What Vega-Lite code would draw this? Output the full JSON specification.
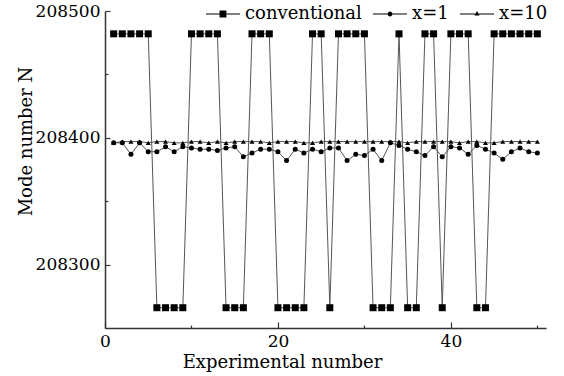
{
  "$schema": "https://vega.github.io/schema/vega-lite/v6.json",
  "width": 441,
  "height": 317,
  "autosize": {"type": "none"},
  "padding": {"left": 105, "top": 11, "right": 18, "bottom": 48},
  "background": "white",
  "config": {
    "view": {"stroke": null},
    "font": "DejaVu Serif"
  },
  "data": {
    "values": [
      {"n":1,"series":"conventional","N":208482},{"n":2,"series":"conventional","N":208482},{"n":3,"series":"conventional","N":208482},{"n":4,"series":"conventional","N":208482},{"n":5,"series":"conventional","N":208482},
      {"n":6,"series":"conventional","N":208266},{"n":7,"series":"conventional","N":208266},{"n":8,"series":"conventional","N":208266},{"n":9,"series":"conventional","N":208266},
      {"n":10,"series":"conventional","N":208482},{"n":11,"series":"conventional","N":208482},{"n":12,"series":"conventional","N":208482},{"n":13,"series":"conventional","N":208482},
      {"n":14,"series":"conventional","N":208266},{"n":15,"series":"conventional","N":208266},{"n":16,"series":"conventional","N":208266},
      {"n":17,"series":"conventional","N":208482},{"n":18,"series":"conventional","N":208482},{"n":19,"series":"conventional","N":208482},
      {"n":20,"series":"conventional","N":208266},{"n":21,"series":"conventional","N":208266},{"n":22,"series":"conventional","N":208266},{"n":23,"series":"conventional","N":208266},
      {"n":24,"series":"conventional","N":208482},{"n":25,"series":"conventional","N":208482},
      {"n":26,"series":"conventional","N":208266},
      {"n":27,"series":"conventional","N":208482},{"n":28,"series":"conventional","N":208482},{"n":29,"series":"conventional","N":208482},{"n":30,"series":"conventional","N":208482},
      {"n":31,"series":"conventional","N":208266},{"n":32,"series":"conventional","N":208266},{"n":33,"series":"conventional","N":208266},
      {"n":34,"series":"conventional","N":208482},
      {"n":35,"series":"conventional","N":208266},{"n":36,"series":"conventional","N":208266},
      {"n":37,"series":"conventional","N":208482},{"n":38,"series":"conventional","N":208482},
      {"n":39,"series":"conventional","N":208266},
      {"n":40,"series":"conventional","N":208482},{"n":41,"series":"conventional","N":208482},{"n":42,"series":"conventional","N":208482},
      {"n":43,"series":"conventional","N":208266},{"n":44,"series":"conventional","N":208266},
      {"n":45,"series":"conventional","N":208482},{"n":46,"series":"conventional","N":208482},{"n":47,"series":"conventional","N":208482},{"n":48,"series":"conventional","N":208482},{"n":49,"series":"conventional","N":208482},{"n":50,"series":"conventional","N":208482},

      {"n":1,"series":"x=1","N":208396},{"n":2,"series":"x=1","N":208396},{"n":3,"series":"x=1","N":208387},{"n":4,"series":"x=1","N":208396},{"n":5,"series":"x=1","N":208389},
      {"n":6,"series":"x=1","N":208389},{"n":7,"series":"x=1","N":208393},{"n":8,"series":"x=1","N":208389},{"n":9,"series":"x=1","N":208393},{"n":10,"series":"x=1","N":208392},
      {"n":11,"series":"x=1","N":208391},{"n":12,"series":"x=1","N":208391},{"n":13,"series":"x=1","N":208390},{"n":14,"series":"x=1","N":208392},{"n":15,"series":"x=1","N":208393},
      {"n":16,"series":"x=1","N":208385},{"n":17,"series":"x=1","N":208388},{"n":18,"series":"x=1","N":208391},{"n":19,"series":"x=1","N":208391},{"n":20,"series":"x=1","N":208389},
      {"n":21,"series":"x=1","N":208382},{"n":22,"series":"x=1","N":208391},{"n":23,"series":"x=1","N":208388},{"n":24,"series":"x=1","N":208391},{"n":25,"series":"x=1","N":208389},
      {"n":26,"series":"x=1","N":208392},{"n":27,"series":"x=1","N":208392},{"n":28,"series":"x=1","N":208382},{"n":29,"series":"x=1","N":208387},{"n":30,"series":"x=1","N":208386},
      {"n":31,"series":"x=1","N":208391},{"n":32,"series":"x=1","N":208382},{"n":33,"series":"x=1","N":208396},{"n":34,"series":"x=1","N":208394},{"n":35,"series":"x=1","N":208391},
      {"n":36,"series":"x=1","N":208389},{"n":37,"series":"x=1","N":208386},{"n":38,"series":"x=1","N":208393},{"n":39,"series":"x=1","N":208385},{"n":40,"series":"x=1","N":208393},
      {"n":41,"series":"x=1","N":208392},{"n":42,"series":"x=1","N":208387},{"n":43,"series":"x=1","N":208394},{"n":44,"series":"x=1","N":208391},{"n":45,"series":"x=1","N":208388},
      {"n":46,"series":"x=1","N":208383},{"n":47,"series":"x=1","N":208389},{"n":48,"series":"x=1","N":208392},{"n":49,"series":"x=1","N":208389},{"n":50,"series":"x=1","N":208388},

      {"n":1,"series":"x=10","N":208396},{"n":2,"series":"x=10","N":208397},{"n":3,"series":"x=10","N":208397},{"n":4,"series":"x=10","N":208397},{"n":5,"series":"x=10","N":208396},
      {"n":6,"series":"x=10","N":208397},{"n":7,"series":"x=10","N":208397},{"n":8,"series":"x=10","N":208396},{"n":9,"series":"x=10","N":208396},{"n":10,"series":"x=10","N":208397},
      {"n":11,"series":"x=10","N":208397},{"n":12,"series":"x=10","N":208396},{"n":13,"series":"x=10","N":208397},{"n":14,"series":"x=10","N":208396},{"n":15,"series":"x=10","N":208397},
      {"n":16,"series":"x=10","N":208397},{"n":17,"series":"x=10","N":208397},{"n":18,"series":"x=10","N":208397},{"n":19,"series":"x=10","N":208396},{"n":20,"series":"x=10","N":208397},
      {"n":21,"series":"x=10","N":208397},{"n":22,"series":"x=10","N":208397},{"n":23,"series":"x=10","N":208396},{"n":24,"series":"x=10","N":208396},{"n":25,"series":"x=10","N":208397},
      {"n":26,"series":"x=10","N":208397},{"n":27,"series":"x=10","N":208397},{"n":28,"series":"x=10","N":208397},{"n":29,"series":"x=10","N":208397},{"n":30,"series":"x=10","N":208397},
      {"n":31,"series":"x=10","N":208397},{"n":32,"series":"x=10","N":208397},{"n":33,"series":"x=10","N":208397},{"n":34,"series":"x=10","N":208397},{"n":35,"series":"x=10","N":208396},
      {"n":36,"series":"x=10","N":208397},{"n":37,"series":"x=10","N":208397},{"n":38,"series":"x=10","N":208397},{"n":39,"series":"x=10","N":208397},{"n":40,"series":"x=10","N":208397},
      {"n":41,"series":"x=10","N":208396},{"n":42,"series":"x=10","N":208397},{"n":43,"series":"x=10","N":208397},{"n":44,"series":"x=10","N":208396},{"n":45,"series":"x=10","N":208396},
      {"n":46,"series":"x=10","N":208397},{"n":47,"series":"x=10","N":208397},{"n":48,"series":"x=10","N":208397},{"n":49,"series":"x=10","N":208397},{"n":50,"series":"x=10","N":208397}
    ]
  },
  "encoding": {
    "x": {
      "field": "n", "type": "quantitative",
      "scale": {"domain": [0, 51], "nice": false, "zero": false},
      "axis": {
        "values": [0, 10, 20, 30, 40, 50],
        "labelExpr": "datum.value % 20 == 0 ? datum.label : ''",
        "title": "Experimental number",
        "titleFont": "DejaVu Serif", "titleFontSize": 18, "titleFontWeight": "normal", "titleColor": "black",
        "titleX": 177, "titleY": 39, "titleAlign": "center", "titleBaseline": "alphabetic",
        "grid": false,
        "domainColor": "#333", "domainWidth": 1.5,
        "tickColor": "#333", "tickWidth": 1.2,
        "tickSize": {"condition": {"test": "datum.value % 20 == 0", "value": -6}, "value": -3},
        "labelFont": "DejaVu Serif", "labelFontSize": 17, "labelColor": "black",
        "labelPadding": 11, "labelFlush": false
      }
    },
    "y": {
      "field": "N", "type": "quantitative",
      "scale": {"domain": [208250, 208500], "nice": false, "zero": false},
      "axis": {
        "values": [208300, 208350, 208400, 208450, 208500],
        "format": "d",
        "labelExpr": "datum.value % 100 == 0 ? datum.label : ''",
        "title": "Mode number N",
        "titleFont": "DejaVu Serif", "titleFontSize": 18, "titleFontWeight": "normal", "titleColor": "black",
        "titleX": -79, "titleY": 130, "titleAlign": "center", "titleBaseline": "middle", "titleAngle": -90,
        "grid": false,
        "domainColor": "#333", "domainWidth": 1.5,
        "tickColor": "#333", "tickWidth": 1.2,
        "tickSize": {"condition": {"test": "datum.value % 100 == 0", "value": -5}, "value": -3},
        "labelFont": "DejaVu Serif", "labelFontSize": 17, "labelColor": "black",
        "labelPadding": 10, "labelFlush": false
      }
    }
  },
  "layer": [
    {
      "mark": {"type": "line", "color": "#555", "strokeWidth": 1},
      "encoding": {"detail": {"field": "series", "type": "nominal"}}
    },
    {
      "mark": {"type": "point", "filled": true, "color": "black", "opacity": 1},
      "encoding": {
        "shape": {"condition": [{"test": "datum.series === 'conventional'", "value": "square"}, {"test": "datum.series === 'x=1'", "value": "circle"}], "value": "triangle-up"},
        "size": {"condition": {"test": "datum.series === 'conventional'", "value": 49}, "value": 25}
      }
    },
    {
      "transform": [{"filter": "false"}],
      "mark": {"type": "point", "filled": true, "color": "black", "opacity": 1},
      "encoding": {
        "shape": {
          "field": "series", "type": "nominal",
          "scale": {
            "domain": ["conventional", "x=1", "x=10"],
            "range": [
              "M-1,-0.03H-0.19V0.03H-1ZM0.19,-0.03H1V0.03H0.19ZM-0.2,-0.2H0.2V0.2H-0.2Z",
              "M-1,-0.03H-0.13V0.03H-1ZM0.13,-0.03H1V0.03H0.13ZM-0.14,0A0.14,0.14,0,1,1,0.14,0A0.14,0.14,0,1,1,-0.14,0Z",
              "M-1,-0.03H-0.1V0.03H-1ZM0.1,-0.03H1V0.03H0.1ZM-0.15,0.09L0,-0.17L0.15,0.09Z"
            ]
          },
          "legend": {
            "orient": "none", "legendX": 100, "legendY": -15, "direction": "horizontal",
            "title": null, "padding": 0,
            "labelFont": "DejaVu Serif", "labelFontSize": 18, "labelColor": "black",
            "symbolSize": 1156, "symbolFillColor": "black", "symbolOpacity": 1,
            "labelOffset": 4, "columnPadding": 8
          }
        }
      }
    }
  ]
}
